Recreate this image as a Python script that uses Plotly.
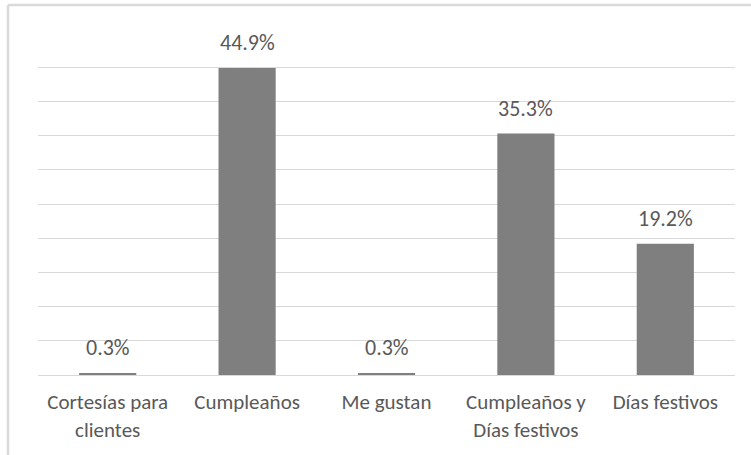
import plotly.graph_objects as go

# Motivo de compra: share of respondents per reason
categorias = ["Cortesías para<br>clientes", "Cumpleaños", "Me gustan",
              "Cumpleaños y<br>Días festivos", "Días festivos"]
porcentajes = [0.3, 44.9, 0.3, 35.3, 19.2]
titulo = "Motivo de Compra de Tortas de los Encuestados"

FONT = "Carlito, Calibri, Lato, sans-serif"
TEXT_GREY = "#595959"
GRID = "#d9d9d9"

W, H = 751, 455
ML, MR, MT, MB = 38, 16, 33, 80
PW, PH = W - ML - MR, H - MT - MB

fig = go.Figure(go.Bar(
    x=categorias,
    y=porcentajes,
    marker=dict(color="#7f7f7f", line=dict(width=0)),
    width=0.41,
    hoverinfo="skip",
))

# value labels above each bar
for c, v in zip(categorias, porcentajes):
    fig.add_annotation(
        x=c, y=v, xref="x", yref="y",
        text=f"{v:.1f}%", showarrow=False,
        yanchor="bottom", yshift=10,
        font=dict(family=FONT, size=22, color=TEXT_GREY, weight=300),
    )

# chart frame (top and left edges)
def px_x(p):
    return (p - ML) / PW

def px_y(p):
    return 1 - (p - MT) / PH

fig.add_shape(type="line", xref="paper", yref="paper",
              x0=px_x(8), x1=px_x(760), y0=px_y(5), y1=px_y(5),
              line=dict(color=GRID, width=2.5))
fig.add_shape(type="line", xref="paper", yref="paper",
              x0=px_x(8), x1=px_x(8), y0=px_y(5), y1=px_y(470),
              line=dict(color=GRID, width=2.5))

# title, sitting above the frame
fig.add_annotation(
    xref="paper", yref="paper", x=px_x(313), y=px_y(3),
    text=titulo, showarrow=False, xanchor="center", yanchor="bottom",
    font=dict(family=FONT, size=17, color="#bfbfbf"),
)

fig.update_layout(
    width=W, height=H,
    margin=dict(l=ML, r=MR, t=MT, b=MB),
    paper_bgcolor="white", plot_bgcolor="white",
    showlegend=False,
    bargap=0.48,
    font=dict(family=FONT, color=TEXT_GREY),
    xaxis=dict(
        showgrid=False, showline=True, linecolor=GRID, linewidth=1,
        ticks="", ticklabelstandoff=8,
        tickfont=dict(family=FONT, size=21, color=TEXT_GREY, weight=300),
        fixedrange=True,
    ),
    yaxis=dict(
        range=[0, 50], dtick=5, showgrid=True, gridcolor=GRID, gridwidth=1,
        showticklabels=False, zeroline=False, showline=False, ticks="",
        fixedrange=True,
    ),
)

fig.write_html("out.html", config={"displayModeBar": False})
